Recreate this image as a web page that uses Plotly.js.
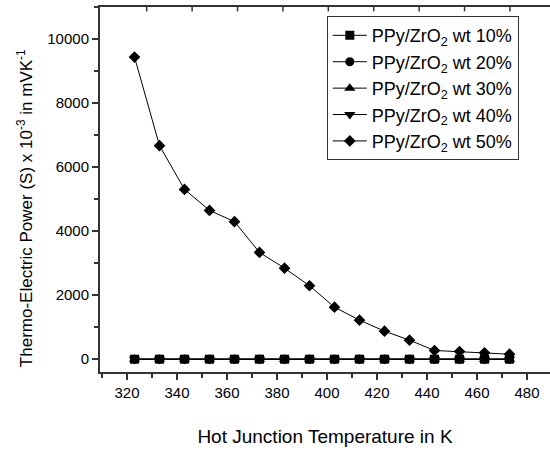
<!DOCTYPE html>
<html>
<head>
<meta charset="utf-8">
<script src="https://cdn.plot.ly/plotly-3.0.1.min.js"></script>
<style>html,body{margin:0;padding:0;background:#fff;}#chart{width:550px;height:453px;}</style>
</head>
<body>
<div id="chart"></div>
<script>
// Hot junction temperature (K)
const temps = [323, 333, 343, 353, 363, 373, 383, 393, 403, 413, 423, 433, 443, 453, 463, 473];
// Thermo-electric power (S) x 10^-3 in mVK^-1
const s10 = [0, 0, 0, 0, 0, 0, 0, 0, 0, 0, 0, 0, 0, 0, 0, 0];
const s20 = [0, 0, 0, 0, 0, 0, 0, 0, 0, 0, 0, 0, 0, 0, 0, 0];
const s30 = [0, 0, 0, 0, 0, 0, 0, 0, 0, 0, 0, 0, 0, 0, 0, 0];
const s40 = [0, 0, 0, 0, 0, 0, 0, 0, 0, 0, 0, 0, 0, 0, 0, 0];
const s50 = [9437, 6669, 5303, 4647, 4294, 3334, 2844, 2294, 1625, 1219, 875, 594, 272, 240, 200, 156];
const seriesNames = [
  'PPy/ZrO<sub>2</sub> wt 10%',
  'PPy/ZrO<sub>2</sub> wt 20%',
  'PPy/ZrO<sub>2</sub> wt 30%',
  'PPy/ZrO<sub>2</sub> wt 40%',
  'PPy/ZrO<sub>2</sub> wt 50%'
];
const xTickVals = [320, 340, 360, 380, 400, 420, 440, 460, 480];
const yTickVals = [0, 2000, 4000, 6000, 8000, 10000];
const xTitle = 'Hot Junction Temperature in K';
const yTitle = 'Thermo-Electric Power (S) x 10<sup>-3</sup> in mVK<sup>-1</sup>';

const seriesData = [s10, s20, s30, s40, s50];
const symbols = ['square', 'circle', 'triangle-up', 'triangle-down', 'diamond'];
const sizes = [9, 9, 10, 10, 9];

const FONT = 'Liberation Sans, Arial, Helvetica, sans-serif';
const AXC = '#333333';

const traces = seriesData.map((ys, i) => ({
  x: temps,
  y: ys,
  name: seriesNames[i],
  type: 'scatter',
  mode: 'lines+markers',
  line: {color: '#000000', width: 1},
  marker: {symbol: symbols[i], size: sizes[i], color: '#000000'}
}));

// small inward decorative ticks on the top frame
const frameShapes = [];
const topTickStart = 0.1038, topTickStep = 0.1009;
for (let k = 0; k < 9; k++) {
  const xp = topTickStart + k * topTickStep;
  frameShapes.push({
    type: 'line', xref: 'paper', yref: 'paper', layer: 'above',
    x0: xp, x1: xp, y0: 1, y1: 0.988,
    line: {color: AXC, width: 1.5}
  });
}

const layout = {
  width: 550,
  height: 453,
  margin: {l: 100, r: 0, t: 7, b: 81, pad: 0},
  paper_bgcolor: '#ffffff',
  plot_bgcolor: '#ffffff',
  font: {family: FONT, color: '#000000', size: 15},
  showlegend: true,
  legend: {
    x: 0.504, y: 0.975, xanchor: 'left', yanchor: 'top',
    bgcolor: '#ffffff', bordercolor: AXC, borderwidth: 1,
    font: {family: FONT, size: 18, color: '#000000'},
    itemwidth: 34
  },
  xaxis: {
    range: [309.2, 489.2],
    tickvals: xTickVals,
    ticks: 'outside', ticklen: 6, tickwidth: 1.5, tickcolor: AXC,
    minor: {dtick: 10, tick0: 310, ticks: 'outside', ticklen: 4, tickwidth: 1.5, tickcolor: AXC, showgrid: false},
    showline: true, linecolor: AXC, linewidth: 2, mirror: true,
    showgrid: false, zeroline: false,
    tickfont: {family: FONT, size: 15, color: '#000000'},
    title: {text: xTitle, font: {family: FONT, size: 19, color: '#000000'}, standoff: 30}
  },
  yaxis: {
    range: [-400, 11000],
    tickvals: yTickVals,
    tickformat: 'd',
    ticks: 'outside', ticklen: 6, tickwidth: 1.5, tickcolor: AXC,
    minor: {dtick: 1000, tick0: 0, ticks: 'outside', ticklen: 4, tickwidth: 1.5, tickcolor: AXC, showgrid: false},
    showline: true, linecolor: AXC, linewidth: 2,
    showgrid: false, zeroline: false,
    tickfont: {family: FONT, size: 15, color: '#000000'}
  },
  shapes: frameShapes,
  annotations: [{
    text: yTitle,
    xref: 'paper', yref: 'paper',
    x: -0.168, y: 0.45,
    xanchor: 'center', yanchor: 'middle',
    textangle: -90, showarrow: false,
    font: {family: FONT, size: 17, color: '#000000'}
  }]
};

Plotly.newPlot('chart', traces, layout, {displayModeBar: false});
</script>
</body>
</html>
